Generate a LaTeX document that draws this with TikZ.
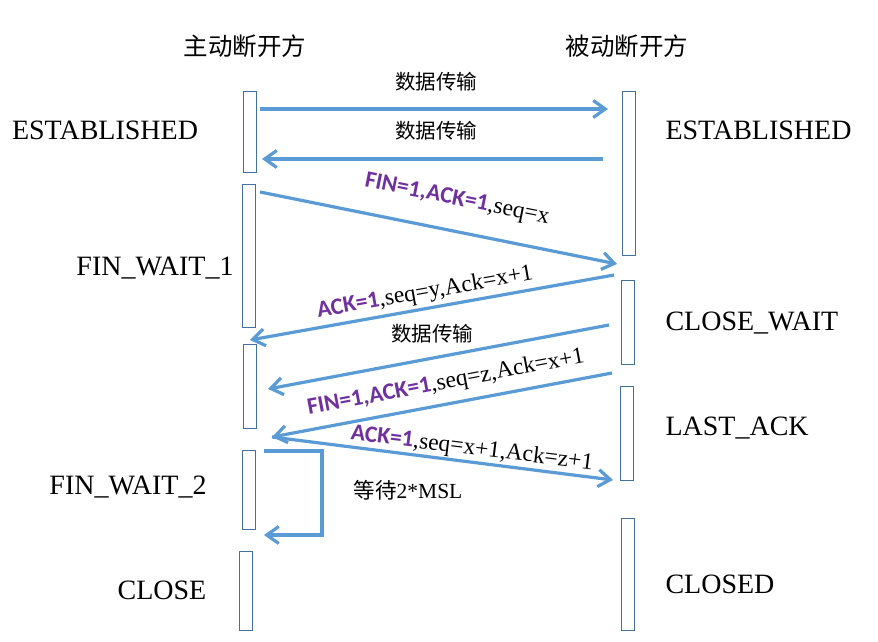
\documentclass[tikz,border=0pt]{standalone}
\usepackage{fontspec}
\usepackage{xcolor}
\usepackage{tikz}
\setmainfont{Liberation Serif}
\newfontfamily\cjk{Noto Sans CJK SC}
\newfontfamily\flagfont{Carlito}
\definecolor{msgblue}{HTML}{5B9BD5}
\definecolor{barblue}{HTML}{41719C}
\definecolor{flagpurple}{HTML}{7030A0}
\providecommand{\flag}[1]{{\flagfont\bfseries\color{flagpurple}#1}}
\usetikzlibrary{arrows.meta}

\begin{document}
\begin{tikzpicture}[x=1pt,y=-1pt,
  bar/.style={draw=barblue,line width=0.8pt,fill=white,minimum width=13pt,inner sep=0pt},
  msg/.style={msgblue,line width=3.2pt,-{Straight Barb[length=12pt,width=17pt]}},
  state/.style={font=\fontsize{28}{32}\selectfont},
  side/.style={font=\cjk\fontsize{24.5}{28}\selectfont},
  lbl/.style={font=\fontsize{23.5}{26}\selectfont,inner sep=1pt},
  data/.style={font=\cjk\fontsize{20.5}{24}\selectfont,inner sep=1pt}]
\useasboundingbox (0,0) rectangle (878,642);
\fill[white] (0,0) rectangle (878,642);
% Drawing sides
\node[side] (active) at (245,46) {主动断开方};
\node[side] (passive) at (627,46) {被动断开方};
% Left bars
\node[bar,minimum height=81pt] (l1) at (249.5,131.5) {};
\node[bar,minimum height=143pt] (l2) at (249,255.5) {};
\node[bar,minimum height=84pt] (l3) at (249.5,386) {};
\node[bar,minimum height=79pt] (l4) at (249,489.5) {};
\node[bar,minimum height=79pt] (l5) at (246,590.5) {};
% Right bars
\node[bar,minimum height=164pt] (r1) at (629,173) {};
\node[bar,minimum height=84pt] (r2) at (627.5,322) {};
\node[bar,minimum height=94pt] (r3) at (627,433) {};
\node[bar,minimum height=112pt] (r4) at (628,574) {};
% Done with bars; drawing states
\node[state] (estl) at (105,130) {ESTABLISHED};
\node[state,anchor=west] (estr) at (662,130) {ESTABLISHED};
\node[state] (fw1) at (155,268) {FIN\_WAIT\_1};
\node[state,anchor=west] (cw) at (662,323) {CLOSE\_WAIT};
\node[state,anchor=west] (la) at (662,428) {LAST\_ACK};
\node[state] (fw2) at (128,487) {FIN\_WAIT\_2};
\node[state,anchor=west] (cld) at (662,584) {CLOSED};
\node[state] (cl) at (162,590) {CLOSE};
% Message ends
\coordinate (m1a) at (260,109);  \coordinate (m1b) at (608,109);
\coordinate (m2a) at (603,159);  \coordinate (m2b) at (262,159);
\coordinate (m3a) at (260,192);  \coordinate (m3b) at (617,264);
\coordinate (m4a) at (614,275);  \coordinate (m4b) at (250,340);
\coordinate (m5a) at (609,325);  \coordinate (m5b) at (268,389);
\coordinate (m6a) at (612,373);  \coordinate (turn) at (272,437);
\coordinate (m7b) at (613,480);
\coordinate (w1) at (264,451);   \coordinate (w2) at (264,535);
% Drawing messages
\draw[msg] (m1a) -- (m1b);
\draw[msg] (m2a) -- (m2b);
\draw[msg] (m3a) -- (m3b);
\draw[msg] (m4a) -- (m4b);
\draw[msg] (m5a) -- (m5b);
\draw[msg] (m6a) -- (turn);
\draw[msg] (turn) -- (m7b);
\draw[msg] (w1) -- ++(58,0) |- (w2);
% Done with messages; drawing labels
\node[data] (t1) at (436,82) {数据传输};
\node[data] (t2) at (436,131) {数据传输};
\node[lbl,rotate=-11.4] (t3) at (457,200) {\flag{FIN=1,ACK=1},seq=x};
\node[lbl,rotate=10] (t4) at (425,293) {\flag{ACK=1},seq=y,Ack=x+1};
\node[data] (t5) at (432,334) {数据传输};
\node[lbl,rotate=10.7] (t6) at (446,383) {\flag{FIN=1,ACK=1},seq=z,Ack=x+1};
\node[lbl,rotate=-7] (t7) at (472,449) {\flag{ACK=1},seq=x+1,Ack=z+1};
\node[lbl,font=\fontsize{21.5}{24}\selectfont] (t8) at (408,490) {{\cjk 等待}2*MSL};
% Done with labels
\end{tikzpicture}
\end{document}
